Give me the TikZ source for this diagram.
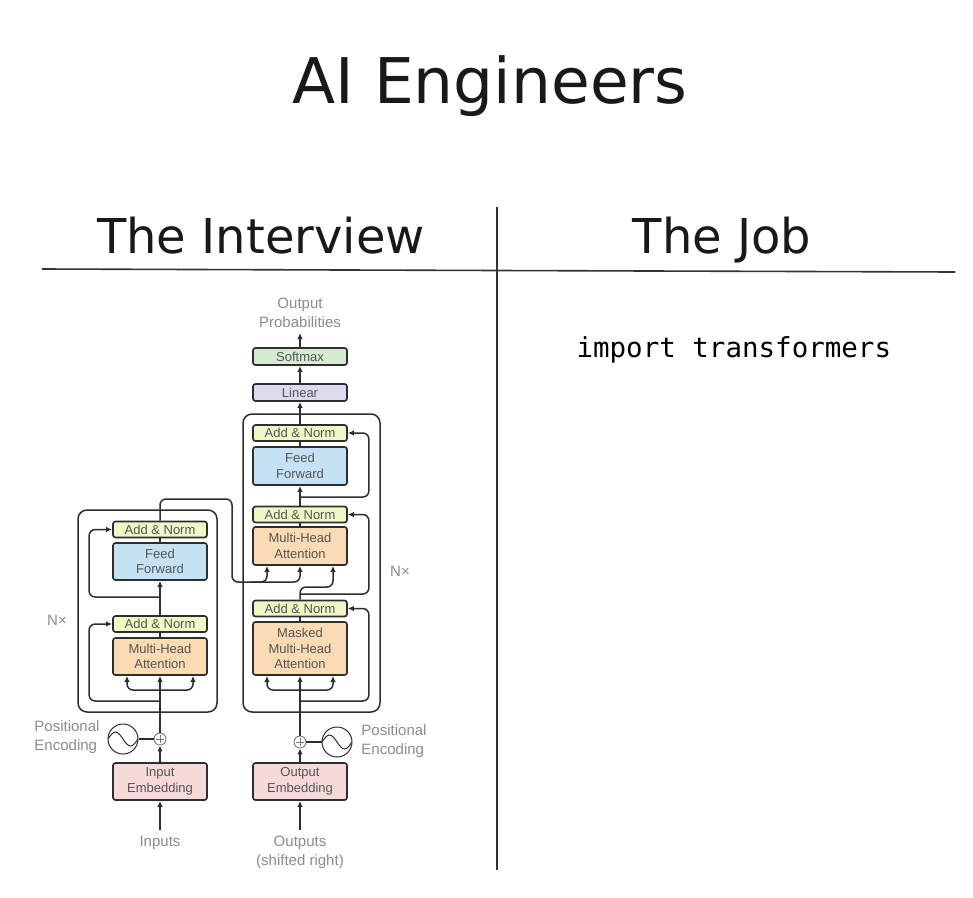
\documentclass[tikz,border=0pt]{standalone}
\usepackage{fontspec}
\setmainfont{Liberation Sans}
\setmonofont{DejaVu Sans Mono}
\newfontfamily\headfont{DejaVu Sans}
\usetikzlibrary{arrows.meta}

\definecolor{boxline}{HTML}{2E2E2E}
\definecolor{addfill}{HTML}{F2F5C6}
\definecolor{fffill}{HTML}{C5E2F5}
\definecolor{attfill}{HTML}{FADBB3}
\definecolor{embfill}{HTML}{F6DADA}
\definecolor{softfill}{HTML}{D5ECD3}
\definecolor{linfill}{HTML}{DADBEE}
\definecolor{boxtext}{HTML}{555555}
\definecolor{labeltext}{HTML}{8C8C8C}
\definecolor{plusgray}{HTML}{777777}

\tikzset{
    heading/.style={anchor=base, text=black!90,
    	font=\headfont\fontsize{48}{50}\selectfont},
    divider/.style={draw=black!80, line width=1.6pt},
    block/.style={draw=boxline, line width=1.7pt, rounded corners=2.5pt,
    	minimum width=94pt, inner sep=0pt, align=center, text=boxtext,
    	font=\fontsize{13}{15.5}\selectfont},
    addnorm/.style={block, fill=addfill, minimum height=16pt},
    ffbox/.style={block, fill=fffill, minimum height=38pt},
    attbox/.style={block, fill=attfill, minimum height=38pt},
    embbox/.style={block, fill=embfill, minimum height=37pt},
    stack/.style={draw=boxline, line width=1.5pt, rounded corners=9pt},
    wire/.style={draw=boxline, line width=1.5pt, rounded corners=6pt},
    flow/.style={wire, -{Latex[length=6pt,width=5.5pt]}},
    outlabel/.style={text=labeltext, inner sep=0pt, align=center,
    	font=\fontsize{15}{19}\selectfont},
    plusnode/.style={circle, draw=plusgray, line width=0.9pt,
    	minimum size=12pt, inner sep=0pt, fill=white,
    	path picture={\draw[plusgray, line width=0.9pt]
    	([xshift=-4pt]path picture bounding box.center) --
    	([xshift=4pt]path picture bounding box.center)
    	([yshift=-4pt]path picture bounding box.center) --
    	([yshift=4pt]path picture bounding box.center);}},
    wavenode/.style={circle, draw=boxline, line width=1pt,
    	minimum size=30pt, inner sep=0pt,
    	path picture={\draw[boxline, line width=1pt]
    	(path picture bounding box.west) sin ++(7.5,-7) cos ++(7.5,7)
    	sin ++(7.5,7) cos ++(7.5,-7);}}
}

\begin{document}
\begin{tikzpicture}[x=1pt, y=-1pt]
  \useasboundingbox (0,0) rectangle (973,897);
  \fill [white] (0,0) rectangle (973,897);

  % headings
  \node (title) [heading, font=\headfont\fontsize{63}{65}\selectfont] at (490,103) {AI Engineers};
  \node (interview) [heading] at (261,253) {The Interview};
  \node (job) [heading] at (722,253) {The Job};
  \draw [divider] (42,269) -- (955,272);
  \draw [divider] (497,207) -- (497,870);
  \node (code) [anchor=base west, text=black,
  	font=\ttfamily\fontsize{27.5}{30}\selectfont] at (573,357) {import transformers};

  % outer stacks
  \draw [stack] (78,510) rectangle (217,712);
  \draw [stack] (243,414) rectangle (380,712);

  % decoder
  \node (softmax) [block, fill=softfill, minimum height=17pt] at (300,356.5) {Softmax};
  \node (linear) [block, fill=linfill, minimum height=17pt] at (300,392.5) {Linear};
  \node (dan3) [addnorm] at (300,433) {Add \& Norm};
  \node (dff) [ffbox] at (300,466) {Feed\\Forward};
  \node (dan2) [addnorm] at (300,514.5) {Add \& Norm};
  \node (dmha) [attbox] at (300,546) {Multi-Head\\Attention};
  \node (dan1) [addnorm] at (300,608.5) {Add \& Norm};
  \node (dmmha) [attbox, minimum height=53pt] at (300,648.5) {Masked\\Multi-Head\\Attention};
  \node (oemb) [embbox] at (300,781.5) {Output\\Embedding};
  \node (dplus) [plusnode] at (300,742) {};
  \node (dwave) [wavenode] at (337,742) {};

  % encoder
  \node (ean2) [addnorm] at (160,529.5) {Add \& Norm};
  \node (eff) [ffbox, minimum height=37pt] at (160,561.5) {Feed\\Forward};
  \node (ean1) [addnorm] at (160,624) {Add \& Norm};
  \node (emha) [attbox, minimum height=37pt] at (160,656.5) {Multi-Head\\Attention};
  \node (iemb) [embbox] at (160,781.5) {Input\\Embedding};
  \node (eplus) [plusnode] at (160,739) {};
  \node (ewave) [wavenode] at (123,739) {};

  % labels
  \node (outprob) [outlabel] at (300,313) {Output\\Probabilities};
  \node (inputs) [outlabel] at (160,843) {Inputs};
  \node (outputs) [outlabel] at (300,852) {Outputs\\(shifted right)};
  \node (epos) [outlabel, align=left] at (67,737) {Positional\\Encoding};
  \node (dpos) [outlabel, align=left] at (394,741) {Positional\\Encoding};
  \node (encn) [outlabel] at (57,620) {N×};
  \node (decn) [outlabel] at (400,571) {N×};

  \coordinate (dsplit) at (300,690);
  \coordinate (dres1) at (300,701);
  \coordinate (dres2) at (300,594);
  \coordinate (dres3) at (300,497);
  \coordinate (esplit) at (160,690);
  \coordinate (eres1) at (160,701);
  \coordinate (eres2) at (160,597);
  \coordinate (ekv) at (250,582);

  % decoder wires
  \draw [flow] ([yshift=6pt]outputs.north) -- (oemb.south);
  \draw [flow] (oemb) -- (dplus);
  \draw [wire] (dwave) -- (dplus);
  \draw [flow] (dplus) -- (dmmha);
  \draw [flow] (dsplit) -| ([xshift=-33pt]dmmha.south);
  \draw [flow] (dsplit) -| ([xshift=33pt]dmmha.south);
  \draw [flow] (dres1) -| ([xshift=21pt]dan1.east) -- (dan1.east);
  \draw [wire] (dmmha) -- (dan1);
  \draw [flow] (dan1.north) -- (300,587) -| ([xshift=33pt]dmha.south);
  \draw [flow] (dres2) -| ([xshift=21pt]dan2.east) -- (dan2.east);
  \draw [wire] (dmha) -- (dan2);
  \draw [flow] (dan2) -- (dff);
  \draw [flow] (dres3) -| ([xshift=21pt]dan3.east) -- (dan3.east);
  \draw [wire] (dff) -- (dan3);
  \draw [flow] (dan3) -- (linear);
  \draw [flow] (linear) -- (softmax);
  \draw [flow] (softmax) -- ([yshift=-5pt]outprob.south);

  % encoder wires
  \draw [flow] ([yshift=6pt]inputs.north) -- (iemb.south);
  \draw [flow] (iemb) -- (eplus);
  \draw [wire] (ewave) -- (eplus);
  \draw [flow] (eplus) -- (emha);
  \draw [flow] (esplit) -| ([xshift=-33pt]emha.south);
  \draw [flow] (esplit) -| ([xshift=33pt]emha.south);
  \draw [flow] (eres1) -| ([xshift=-23pt]ean1.west) -- (ean1.west);
  \draw [wire] (emha) -- (ean1);
  \draw [flow] (ean1) -- (eff);
  \draw [flow] (eres2) -| ([xshift=-23pt]ean2.west) -- (ean2.west);
  \draw [wire] (eff) -- (ean2);

  % encoder output into decoder attention
  \draw [flow] (ean2) -- (160,499) -| (232,582) -| (dmha.south);
  \draw [flow] (ekv) -| ([xshift=-33pt]dmha.south);
\end{tikzpicture}
\end{document}
